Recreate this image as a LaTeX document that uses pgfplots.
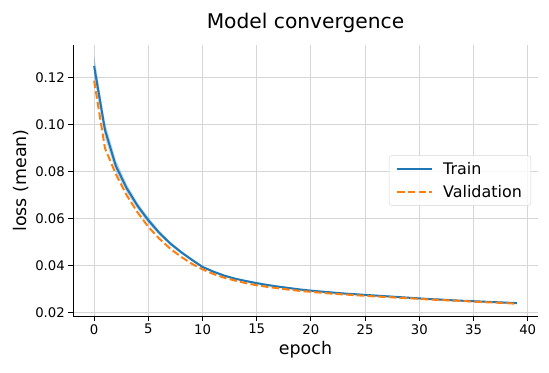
\documentclass[border=0pt]{standalone}
\usepackage{fontspec}
\setmainfont{DejaVu Sans}
\usepackage{pgfplots}
\usepackage{pgfplotstable}
\pgfplotsset{compat=1.18}
\usepgfplotslibrary{fillbetween}
\definecolor{mblue}{HTML}{1F77B4}
\definecolor{morange}{HTML}{FF7F0E}
\definecolor{gridc}{HTML}{D6D6D6}
\pgfplotstableread{
e tr lo hi va
0 0.1250 0.1205 0.1295 0.1188
1 0.0978 0.0945 0.1011 0.0900
2 0.0825 0.0800 0.0850 0.0790
3 0.0730 0.0712 0.0748 0.0700
4 0.0655 0.0641 0.0669 0.0627
5 0.0593 0.0580 0.0606 0.0565
6 0.0540 0.0530 0.0550 0.0515
7 0.0495 0.0487 0.0503 0.0473
8 0.0458 0.0451 0.0465 0.0438
9 0.0425 0.0419 0.0431 0.0408
10 0.0394 0.0389 0.0399 0.0384
11 0.0374 0.0369 0.0379 0.0364
12 0.0357 0.0352 0.0362 0.0348
13 0.0344 0.0340 0.0348 0.0336
14 0.0334 0.0330 0.0338 0.0325
15 0.0325 0.0321 0.0329 0.0316
16 0.0317 0.0313 0.0321 0.0309
17 0.0310 0.0306 0.0314 0.0303
18 0.0304 0.0300 0.0308 0.0297
19 0.0298 0.0295 0.0301 0.0292
20 0.0293 0.0290 0.0296 0.0288
21 0.0289 0.0286 0.0292 0.0284
22 0.0285 0.0282 0.0288 0.0280
23 0.0281 0.0278 0.0284 0.0277
24 0.0278 0.0275 0.0281 0.0274
25 0.0275 0.0272 0.0278 0.0271
26 0.0272 0.0269 0.0275 0.0268
27 0.0269 0.0266 0.0272 0.0266
28 0.0266 0.0263 0.0269 0.0263
29 0.0263 0.0260 0.0266 0.0261
30 0.0260 0.0257 0.0263 0.0258
31 0.0257 0.0254 0.0260 0.0255
32 0.0255 0.0252 0.0258 0.0253
33 0.0252 0.0249 0.0255 0.0251
34 0.0250 0.0247 0.0253 0.0249
35 0.0248 0.0245 0.0251 0.0246
36 0.0246 0.0243 0.0249 0.0244
37 0.0244 0.0241 0.0247 0.0242
38 0.0242 0.0239 0.0245 0.0240
39 0.0240 0.0237 0.0243 0.0237
}\losstab
\begin{document}
\begin{tikzpicture}
\begin{axis}[
  scale only axis,
  width=465bp, height=271bp,
  xmin=-1.95, xmax=40.95,
  ymin=0.0185, ymax=0.1340,
  axis x line*=bottom, axis y line*=left,
  axis line style={line width=1bp, -},
  tick align=outside,
  major tick length=4.7bp,
  tick style={line width=1bp, black},
  xtick={0,5,...,40},
  ytick={0.02,0.04,0.06,0.08,0.10,0.12},
  scaled y ticks=false,
  yticklabel style={/pgf/number format/fixed, /pgf/number format/precision=2, /pgf/number format/fixed zerofill},
  /pgf/number format/assume math mode=true,
  ticklabel style={font=\fontsize{13.3}{16}\selectfont},
  grid=major,
  major grid style={gridc, line width=1bp},
  title={Model convergence},
  title style={font=\fontsize{20.3}{24}\selectfont, yshift=3bp},
  xlabel={epoch},
  ylabel={loss (mean)},
  label style={font=\fontsize{17.5}{21}\selectfont},
  legend style={at={(0.985,0.5)}, anchor=east, font=\fontsize{16}{19}\selectfont,
    draw=gridc, rounded corners=3bp, fill=white, fill opacity=0.8, text opacity=1,
    row sep=5bp, inner xsep=7bp, inner ysep=5bp,
    /tikz/every odd column/.append style={column sep=8bp}},
  legend cell align=left,
  legend image code/.code={\draw[#1] (0bp,0bp) -- (35bp,0bp);},
]
\coordinate (SW) at (rel axis cs:0,0);
\addplot[name path=up, draw=none, forget plot] table[x=e, y=hi] {\losstab};
\addplot[name path=dn, draw=none, forget plot] table[x=e, y=lo] {\losstab};
\addplot[draw=none, fill=mblue, fill opacity=0.3, forget plot] fill between[of=up and dn];
\addplot[mblue, line width=2bp] table[x=e, y=tr] {\losstab};
\addlegendentry{Train}
\addplot[morange, line width=2bp, dash pattern=on 7.5bp off 3.2bp] table[x=e, y=va] {\losstab};
\addlegendentry{Validation}
\end{axis}
\pgfresetboundingbox
\path (SW) ++(-73bp,-57bp) rectangle ++(549bp,373bp);
\end{tikzpicture}
\end{document}
